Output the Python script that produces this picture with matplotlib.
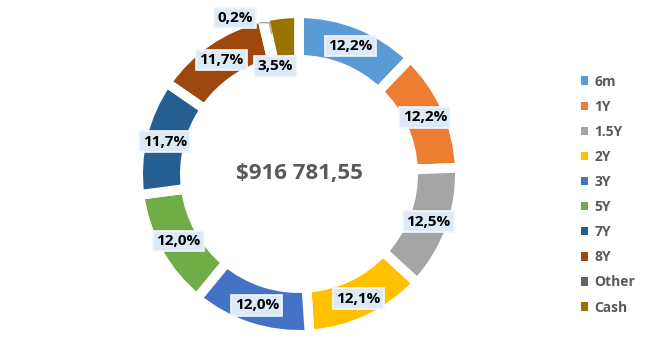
import matplotlib
matplotlib.use("Agg")
import matplotlib.pyplot as plt
import numpy as np
from matplotlib.patches import Patch

categories = ["6m", "1Y", "1.5Y", "2Y", "3Y", "5Y", "7Y", "8Y", "Other", "Cash"]
values = [12.2, 12.2, 12.5, 12.1, 12.0, 12.0, 11.7, 11.7, 0.2, 3.5]
labels = ["12,2%", "12,2%", "12,5%", "12,1%", "12,0%", "12,0%", "11,7%", "11,7%", "0,2%", "3,5%"]
colors = ["#5B9BD5", "#ED7D31", "#A5A5A5", "#FFC000", "#4472C4",
          "#70AD47", "#255E91", "#9E480E", "#636363", "#997300"]
total_text = "$916 781,55"

FONT = ['Open Sans', 'DejaVu Sans']
plt.rcParams['font.family'] = FONT

W, H = 647, 352
fig = plt.figure(figsize=(W / 100, H / 100), dpi=100)
cx, cy, R = 299, 174, 156
ax = fig.add_axes([(cx - R) / W, (H - cy - R) / H, 2 * R / W, 2 * R / H])

lw_pt = 7
half = lw_pt / 72 * 100 / 2 / R
wedges, _ = ax.pie(values, colors=colors, startangle=90, counterclock=False,
                   radius=1.0 + half,
                   wedgeprops=dict(width=37 / R + 2 * half, edgecolor='white', linewidth=lw_pt))
ax.set_xlim(-1, 1)
ax.set_ylim(-1, 1)
ax.set_aspect('equal')
ax.axis('off')

tot = sum(values)
cum = np.cumsum([0] + values[:-1])
box = dict(boxstyle='square,pad=0.22', facecolor='#DCE9F6', edgecolor='#F4F8FC', linewidth=1.2)
for i, (v, c0, lab) in enumerate(zip(values, cum, labels)):
    mid = 90 - 360 * (c0 + v / 2) / tot
    r = 0.885
    x, y = r * np.cos(np.radians(mid)), r * np.sin(np.radians(mid))
    if categories[i] == "Other":
        x, y = -0.41, 1.0
        ax.plot([x + 0.16, x + 0.22, x + 0.235], [y - 0.03, y - 0.03, y - 0.1],
                color='#A6A6A6', lw=1, zorder=3)
    elif categories[i] == "Cash":
        x, y = -0.15, 0.69
    ax.text(x, y, lab, ha='center', va='center', fontsize=11, fontweight='bold',
            color='black', bbox=box, zorder=4)

ax.text(0, 0, total_text, ha='center', va='center', fontsize=16,
        fontweight='bold', color='#595959')

handles = [Patch(facecolor=c, edgecolor='none') for c in colors]
leg = fig.legend(handles, categories, loc='upper left', bbox_to_anchor=(568 / W, 1 - 62 / H),
                 frameon=False, handlelength=0.55, handleheight=0.55, handletextpad=0.45,
                 labelspacing=0.8, prop=dict(family=FONT, size=10, weight='bold'))
for t in leg.get_texts():
    t.set_color('#595959')

fig.savefig("out.png", dpi=100)
